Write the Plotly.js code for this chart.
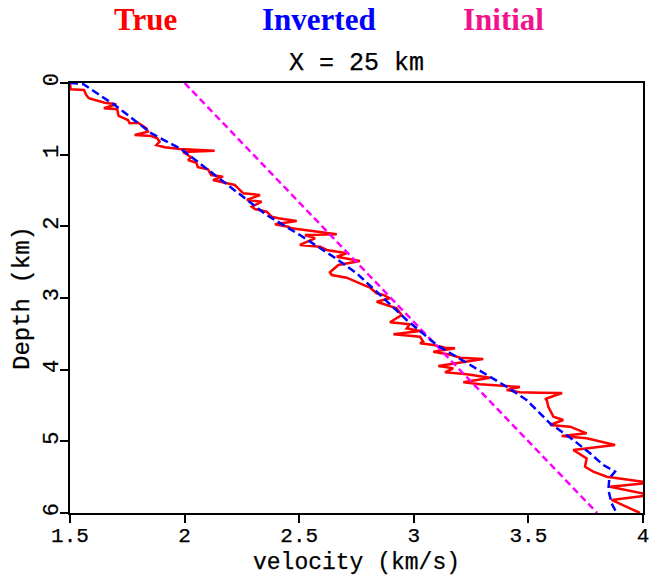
<!DOCTYPE html>
<html>
<head>
<meta charset="utf-8">
<script src="https://cdn.plot.ly/plotly-3.0.1.min.js"></script>
<style>
html,body{margin:0;padding:0;background:#fff;}
#chart{width:651px;height:577px;}
.xtick text,.ytick text,.g-xtitle text,.g-ytitle text,.annotation[data-index="3"] text{stroke:#000;stroke-width:0.25px;}
</style>
</head>
<body>
<div id="chart"></div>
<script>
// True velocity profile (km/s) vs depth (km)
const trueVel = [1.50,1.503,1.561,1.571,1.582,1.651,1.702,1.648,1.706,1.712,1.753,1.760,1.797,1.833,1.840,1.782,1.855,1.881,1.891,1.877,1.913,1.979,2.131,1.993,2.029,2.015,2.051,2.058,2.102,2.116,2.168,2.124,2.175,2.219,2.234,2.256,2.329,2.271,2.336,2.293,2.307,2.358,2.380,2.409,2.489,2.394,2.452,2.467,2.664,2.525,2.569,2.503,2.591,2.620,2.707,2.664,2.765,2.671,2.634,2.642,2.707,2.751,2.780,2.809,2.838,2.867,2.896,2.838,2.882,2.925,2.947,2.896,2.983,2.969,3.027,2.911,3.027,3.041,3.027,3.085,3.136,3.180,3.085,3.165,3.202,3.303,3.107,3.172,3.136,3.231,3.333,3.216,3.289,3.384,3.463,3.405,3.463,3.551,3.647,3.573,3.580,3.587,3.609,3.652,3.594,3.682,3.754,3.645,3.754,3.878,3.696,3.754,3.747,3.783,3.842,4.03,3.856,4.03,3.863,3.943,3.987];
const trueDepth = [0.0,0.088,0.098,0.167,0.213,0.275,0.297,0.353,0.367,0.460,0.516,0.562,0.554,0.632,0.680,0.726,0.740,0.772,0.819,0.865,0.897,0.921,0.945,0.963,1.037,1.074,1.112,1.176,1.204,1.284,1.307,1.353,1.391,1.423,1.469,1.539,1.563,1.632,1.656,1.726,1.758,1.796,1.865,1.888,1.926,1.972,2.005,2.027,2.111,2.121,2.167,2.260,2.284,2.330,2.376,2.424,2.484,2.539,2.641,2.679,2.717,2.772,2.818,2.856,2.934,2.958,3.004,3.052,3.098,3.144,3.238,3.339,3.367,3.423,3.460,3.506,3.540,3.610,3.632,3.656,3.693,3.702,3.749,3.795,3.833,3.851,3.949,3.981,4.037,4.065,4.112,4.176,4.204,4.224,4.242,4.284,4.316,4.321,4.325,4.409,4.423,4.517,4.656,4.702,4.772,4.796,4.888,4.925,4.958,5.051,5.121,5.237,5.354,5.423,5.493,5.577,5.633,5.749,5.818,5.934,6.0];

// Inverted velocity profile
const invVel = [1.50,1.557,1.695,1.855,1.986,2.073,2.198,2.358,2.503,2.649,2.751,2.853,2.969,3.100,3.260,3.405,3.492,3.594,3.696,3.769,3.827,3.878,3.853,3.849,3.863,3.885];
const invDepth = [0.0,0.014,0.307,0.702,0.925,1.144,1.447,1.842,2.121,2.424,2.655,2.958,3.307,3.656,3.958,4.238,4.423,4.748,4.981,5.167,5.330,5.423,5.516,5.679,5.865,6.0];

// Initial (linear) velocity model
const initVel = [2.0,3.8];
const initDepth = [0.0,6.0];

const labels = ["True","Inverted","Initial"];
const labelColors = ["#ff0000","#0000ff","#f0148c"];
const titleText = "X = 25 km";
const xTitle = "velocity (km/s)";
const yTitle = "Depth (km)";
const xTicks = [1.5,2,2.5,3,3.5,4];
const xTickText = ["1.5","2","2.5","3","3.5","4"];
const yTicks = [0,1,2,3,4,5,6];

const mono = "Liberation Mono, Courier New, monospace";

const traces = [
  {x: trueVel, y: trueDepth, mode: "lines", line: {color: "#ff0000", width: 2.5}, hoverinfo: "skip"},
  {x: initVel, y: initDepth, mode: "lines", line: {color: "#ff00ff", width: 2.5, dash: "7px,4px"}, hoverinfo: "skip"},
  {x: invVel, y: invDepth, mode: "lines", line: {color: "#0000ff", width: 2.5, dash: "8px,4px"}, hoverinfo: "skip"}
];

const labelX = [0.1309, 0.4346, 0.7565];
const annotations = labels.map((t, i) => ({
  text: t, xref: "paper", yref: "paper", x: labelX[i], y: 1.1488,
  xanchor: "center", yanchor: "middle", showarrow: false,
  font: {family: "Liberation Serif, Times New Roman, serif", size: 31, color: labelColors[i], weight: "bold"}
}));
annotations.push({
  text: titleText, xref: "paper", yref: "paper", x: 0.5, y: 1.046,
  xanchor: "center", yanchor: "middle", showarrow: false,
  font: {family: mono, size: 25, color: "#000"}
});

const layout = {
  width: 651, height: 577,
  margin: {l: 70, r: 8, t: 83, b: 64},
  paper_bgcolor: "#fff", plot_bgcolor: "#fff",
  showlegend: false,
  xaxis: {
    range: [1.5, 4], tickvals: xTicks, ticktext: xTickText,
    showgrid: false, zeroline: false, showline: true, mirror: true,
    linecolor: "#000", linewidth: 2, ticks: "outside", ticklen: 8, tickwidth: 2, tickcolor: "#000",
    ticklabelstandoff: -6,
    tickfont: {family: mono, size: 21, color: "#000"},
    title: {text: xTitle, font: {family: mono, size: 23, color: "#000"}, standoff: 6}
  },
  yaxis: {
    range: [6, 0], tickvals: yTicks,
    showgrid: false, zeroline: false, showline: true, mirror: true,
    linecolor: "#000", linewidth: 2, ticks: "outside", ticklen: 8, tickwidth: 2, tickcolor: "#000",
    tickangle: -90, ticklabelstandoff: -7,
    tickfont: {family: mono, size: 22, color: "#000"},
    title: {text: yTitle, font: {family: mono, size: 24, color: "#000"}, standoff: 4}
  },
  annotations: annotations
};

Plotly.newPlot("chart", traces, layout, {staticPlot: true, displayModeBar: false});
</script>
</body>
</html>
